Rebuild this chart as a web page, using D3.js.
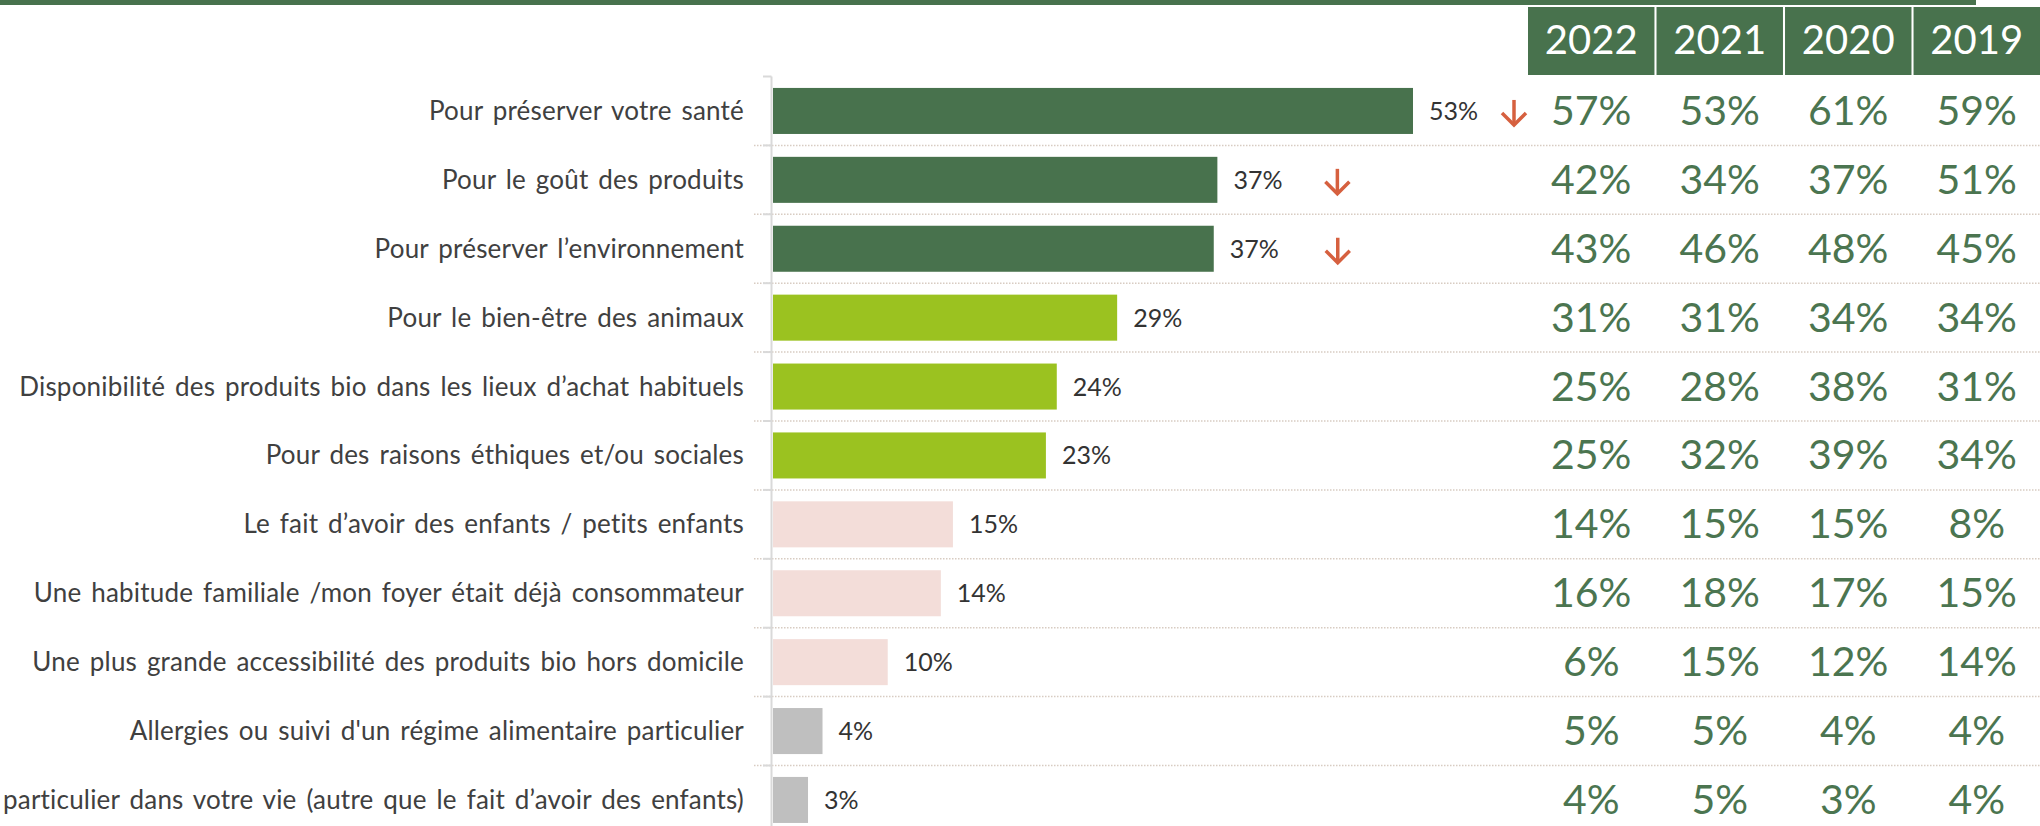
<!DOCTYPE html>
<html>
<head>
<meta charset="utf-8">
<script src="https://cdn.jsdelivr.net/npm/d3@7"></script>
<style>
  html, body { margin: 0; padding: 0; background: #ffffff; }
  svg { display: block; }
  text { font-family: Lato, "Noto Sans", sans-serif; }
</style>
</head>
<body>
<svg id="chart" width="2040" height="826"></svg>
<script>
// ---------- DATA ----------
const categories = [
  "Pour préserver votre santé",
  "Pour le goût des produits",
  "Pour préserver l’environnement",
  "Pour le bien-être des animaux",
  "Disponibilité des produits bio dans les lieux d’achat habituels",
  "Pour des raisons éthiques et/ou sociales",
  "Le fait d’avoir des enfants / petits enfants",
  "Une habitude familiale /mon foyer était déjà consommateur",
  "Une plus grande accessibilité des produits bio hors domicile",
  "Allergies ou suivi d'un régime alimentaire particulier",
  "Un évènement particulier dans votre vie (autre que le fait d’avoir des enfants)"
];
// current-year bar values (%)
const currentValues = [53, 36.8, 36.5, 28.5, 23.5, 22.6, 14.9, 13.9, 9.5, 4.1, 2.9];
// colour group of each bar
const barGroups = ["top", "top", "top", "mid", "mid", "mid", "low", "low", "low", "other", "other"];
// rows flagged with a significant decrease
const decreaseRows = [0, 1, 2];

const years = ["2022", "2021", "2020", "2019"];
const values2022 = [57, 42, 43, 31, 25, 25, 14, 16, 6, 5, 4];
const values2021 = [53, 34, 46, 31, 28, 32, 15, 18, 15, 5, 5];
const values2020 = [61, 37, 48, 34, 38, 39, 15, 17, 12, 4, 3];
const values2019 = [59, 51, 45, 34, 31, 34, 8, 15, 14, 4, 4];
const tableValues = [values2022, values2021, values2020, values2019];

// ---------- STYLE / LAYOUT ----------
const colors = { top: "#48724d", mid: "#9bc220", low: "#f3ddd9", other: "#bfbfbf" };
const darkGreen = "#48724d";
const tableGreen = "#4b7550";
const arrowColor = "#d6603f";
const arrowOffsets = [101, 120, 124];

const svg = d3.select("#chart");
const W = 2040, H = 826;

const x = d3.scaleLinear().domain([0, 53]).range([773, 1413]);
const y = d3.scaleBand().domain(d3.range(categories.length))
  .range([76.5, 834.4]).paddingInner(0.332).paddingOuter(0.166);
const step = y.step();

const xYear = d3.scaleBand().domain(years).range([1528, 2040]).paddingInner(0.016).paddingOuter(0);

const fmt = v => d3.format(".0f")(v) + "%";

// top band
svg.append("rect").attr("x", 0).attr("y", 0).attr("width", 1976).attr("height", 5).attr("fill", darkGreen);

// header cells
const head = svg.append("g");
head.selectAll("rect").data(years).join("rect")
  .attr("x", d => xYear(d))
  .attr("y", 7)
  .attr("width", (d, i) => i === years.length - 1 ? W - xYear(d) : xYear.bandwidth())
  .attr("height", 68)
  .attr("fill", darkGreen);
head.selectAll("text").data(years).join("text")
  .attr("x", d => xYear(d) + xYear.bandwidth() / 2)
  .attr("y", 54)
  .attr("text-anchor", "middle")
  .attr("fill", "#ffffff")
  .attr("font-size", 40)
  .text(d => d);

// dotted separators between rows
const seps = d3.range(1, categories.length).map(i => y(i) - (step - y.bandwidth()) / 2);
svg.append("g").selectAll("line").data(seps).join("line")
  .attr("x1", 754).attr("x2", W)
  .attr("y1", d => d).attr("y2", d => d)
  .attr("stroke", "#d8ccc2").attr("stroke-width", 1.5).attr("stroke-dasharray", "1.5,1.5");

// y axis (line + ticks at band boundaries)
const bounds = d3.range(0, categories.length + 1).map(i => y(0) - (step - y.bandwidth()) / 2 + i * step);
const axisG = svg.append("g");
axisG.append("line").attr("x1", 771.5).attr("x2", 771.5).attr("y1", bounds[0]).attr("y2", H)
  .attr("stroke", "#d9d9d9").attr("stroke-width", 2);
axisG.selectAll("line.tick").data(bounds).join("line").attr("class", "tick")
  .attr("x1", 763).attr("x2", 771.5)
  .attr("y1", d => d).attr("y2", d => d)
  .attr("stroke", "#d9d9d9").attr("stroke-width", 2);

// category labels
svg.append("g").selectAll("text").data(categories).join("text")
  .attr("x", 744)
  .attr("y", (d, i) => y(i) + y.bandwidth() / 2 + 9)
  .attr("text-anchor", "end")
  .attr("fill", "#404040")
  .attr("font-size", 26)
  .attr("letter-spacing", 0.2)
  .attr("word-spacing", 3)
  .text(d => d);

// bars
svg.append("g").selectAll("rect").data(currentValues).join("rect")
  .attr("x", x(0))
  .attr("y", (d, i) => y(i))
  .attr("width", d => x(d) - x(0))
  .attr("height", y.bandwidth())
  .attr("fill", (d, i) => colors[barGroups[i]]);

// value labels
svg.append("g").selectAll("text").data(currentValues).join("text")
  .attr("x", d => x(d) + 16)
  .attr("y", (d, i) => y(i) + y.bandwidth() / 2 + 9)
  .attr("fill", "#333333")
  .attr("font-size", 25)
  .text(d => fmt(d));

// decrease arrows
const arrows = svg.append("g").attr("stroke", arrowColor).attr("stroke-width", 3.5)
  .attr("fill", "none").attr("stroke-linecap", "butt").attr("stroke-linejoin", "miter");
decreaseRows.forEach((r, k) => {
  const cx = x(currentValues[r]) + arrowOffsets[k];
  const cy = y(r) + y.bandwidth() / 2 + 2;
  arrows.append("line").attr("x1", cx).attr("x2", cx).attr("y1", cy - 13).attr("y2", cy + 12);
  arrows.append("path").attr("d", `M${cx - 12},${cy} L${cx},${cy + 12} L${cx + 12},${cy}`);
});

// table values
years.forEach((yr, j) => {
  svg.append("g").selectAll("text").data(tableValues[j]).join("text")
    .attr("x", xYear(yr) + xYear.bandwidth() / 2)
    .attr("y", (d, i) => y(i) + y.bandwidth() / 2 + 14)
    .attr("text-anchor", "middle")
    .attr("fill", tableGreen)
    .attr("font-size", 41)
    .text(d => d + "%");
});
</script>
</body>
</html>
